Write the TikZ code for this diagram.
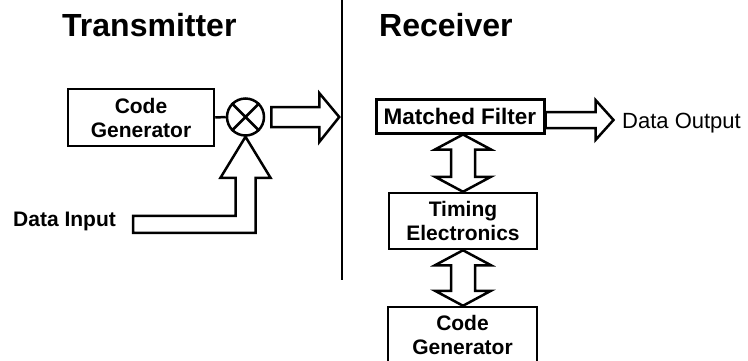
\documentclass[tikz,border=0pt]{standalone}
\usepackage{fontspec}
\setmainfont{Liberation Sans}
\usetikzlibrary{calc}
\newcommand\vdarrow[2]{%
  \draw[hollow] (#1) -- ($(#1)+(28,15)$) -- ($(#1)+(12,15)$) -- ($(#2)+(12,-15)$)
    -- ($(#2)+(28,-15)$) -- (#2) -- ($(#2)+(-28,-15)$) -- ($(#2)+(-12,-15)$)
    -- ($(#1)+(-12,15)$) -- ($(#1)+(-28,15)$) -- cycle;}
\begin{document}
\begin{tikzpicture}[x=1pt,y=-1pt,
  box/.style={draw, line width=2.5pt, fill=white, align=center, inner sep=0pt,
    font=\bfseries\fontsize{21}{24}\selectfont},
  title/.style={font=\bfseries\fontsize{32}{36}\selectfont, inner sep=0pt, anchor=base west},
  hollow/.style={draw, line width=2.5pt, fill=white, line join=miter, miter limit=10},
  lbl/.style={inner sep=0pt, anchor=base west},
]
\useasboundingbox (0,0) rectangle (748,360);

% titles and divider
\node[title] (ttx) at (62,36) {Transmitter};
\node[title] (trx) at (379,36) {Receiver};
\coordinate (divtop) at (342,0);
\coordinate (divbot) at (342,280);
\draw[line width=2.2pt] (divtop) -- (divbot);

% transmitter
\node[box, minimum width=146pt, minimum height=57pt] (cgt) at (141,117.5) {Code\\Generator};
\node[draw, circle, line width=2.5pt, minimum size=37pt, inner sep=0pt] (mix) at (245.5,117) {};
\draw[line width=2.5pt] (mix.north west) -- (mix.south east) (mix.north east) -- (mix.south west);
\draw[line width=2.5pt] (cgt.east) -- (mix.west);
\draw[hollow] ($(mix.east)+(6,-10)$) -- ++(48,0) -- ++(0,-14) -- ++(20,24) -- ++(-20,25)
  -- ++(0,-15) -- ++(-48,0) -- cycle;

\node[lbl, font=\bfseries\fontsize{21}{24}\selectfont] (din) at (13,226) {Data Input};
\draw[hollow] (mix.south) -- ++(25,41) -- ++(-15,0) -- ++(0,55) -- ++(-122.5,0)
  -- ++(0,-17) -- ++(102.5,0) -- ++(0,-38) -- ++(-15,0) -- cycle;

% receiver
\node[box, line width=3pt, minimum width=168pt, minimum height=34pt,
  font=\bfseries\fontsize{22.5}{24}\selectfont] (mf) at (460,116) {Matched Filter};
\node[box, minimum width=148pt, minimum height=56pt] (te) at (463,221) {Timing\\Electronics};
\node[box, minimum width=149pt, minimum height=56pt] (cgr) at (462.5,335) {Code\\Generator};

\draw[hollow] ($(mf.east)+(0,-4)$) -- ++(50,0) -- ++(0,-12) -- ++(18,20) -- ++(-18,20)
  -- ++(0,-12) -- ++(-50,0) -- cycle;
\node[lbl, font=\fontsize{22}{24}\selectfont] (dout) at (622,128) {Data Output};

\coordinate (a1) at (te.north |- mf.south);
\vdarrow{a1}{te.north}
\coordinate (a2) at (te.south);
\coordinate (a3) at (te.south |- cgr.north);
\vdarrow{a2}{a3}
\end{tikzpicture}
\end{document}
